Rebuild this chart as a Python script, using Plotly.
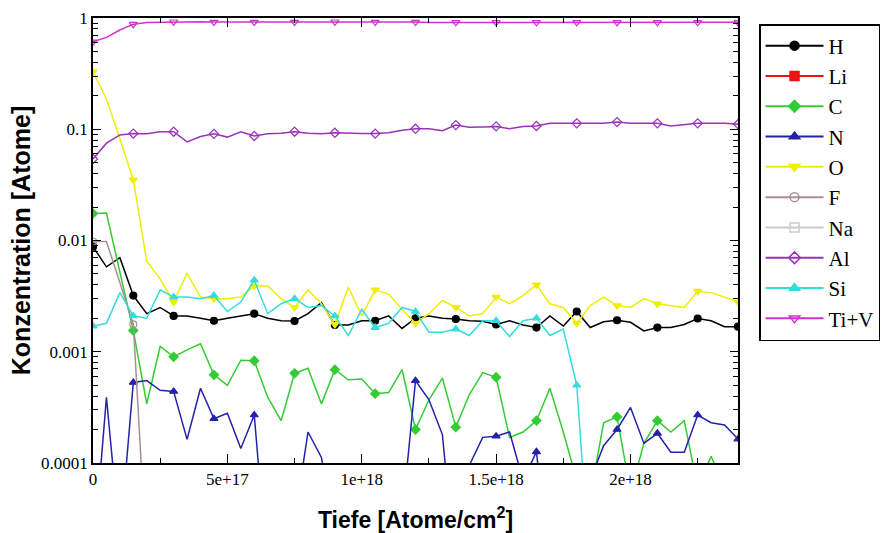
import plotly.graph_objects as go

# depth axis: one point every 5e16 atoms/cm^2 from 0 to 2.4e18
depth_step = 5e16
n_points = 49
depth = [i * depth_step for i in range(n_points)]

H = [0.0088, 0.0058, 0.0070, 0.0032, 0.0022, 0.0025, 0.0021, 0.0021, 0.0020, 0.0019,
     0.0020, 0.0021, 0.0022, 0.0020, 0.0019, 0.00189, 0.0022, 0.00276, 0.00174, 0.00174,
     0.0019, 0.0019, 0.0021, 0.00162, 0.0020, 0.0021, 0.0020, 0.00197, 0.0019, 0.00188,
     0.00176, 0.0019, 0.00174, 0.00165, 0.0021, 0.0017, 0.0023, 0.00165, 0.00186, 0.00192,
     0.00184, 0.00154, 0.00165, 0.00165, 0.00176, 0.00199, 0.0019, 0.00168, 0.00168]

Li = [None] * n_points

C = [0.0175, 0.0177, 0.0052, 0.00155, 0.00034, 0.00112, 0.00090, 0.00104, 0.00118, 0.00062,
     0.0005, 0.00084, 0.00083, 0.00039, 0.00024, 0.00064, 0.00071, 0.00034, 0.00069, 0.00056,
     0.00057, 0.00042, 0.00043, 0.00069, 0.0002, 0.00037, 0.00058, 0.00021, 0.00041, 0.00065,
     0.00059, 0.00017, 0.00019, 0.00024, 0.00047, 0.00019, 7e-5, 5e-5, 0.00023, 0.00026,
     5.5e-5, 0.00015, 0.00024, 0.00019, 0.00024, 6e-5, 0.000115, 6e-5, 5e-5]

N = [1.3e-5, 0.00039, 2e-5, 0.00053, 0.00055, 0.00045, 0.00044, 0.000163, 0.00047, 0.00025,
     0.00028, 0.000135, 0.00027, 1e-5, 1e-5, 3e-5, 0.00019, 0.000112, 2e-5, 1e-5,
     1e-5, 1e-5, 1e-5, 3.2e-5, 0.00055, 0.00037, 0.00018, 1e-5, 9.5e-5, 0.00017,
     0.000174, 0.00019, 7e-5, 0.000126, 1e-5, 1e-5, 1e-5, 7e-5, 0.000143, 0.0002,
     0.000316, 0.00015, 0.000185, 0.000125, 0.000125, 0.00027, 0.00023, 0.00022, 0.000164]

O = [0.33, 0.187, 0.082, 0.035, 0.0065, 0.0045, 0.0028, 0.0051, 0.0031, 0.0030,
     0.0030, 0.0031, 0.0039, 0.0039, 0.0030, 0.0025, 0.0036, 0.0027, 0.00176, 0.0038,
     0.0021, 0.0036, 0.0033, 0.0024, 0.0018, 0.0022, 0.0029, 0.0025, 0.0021, 0.0022,
     0.0031, 0.0027, 0.0032, 0.0040, 0.0027, 0.0025, 0.0018, 0.0026, 0.0031, 0.0026,
     0.0025, 0.0030, 0.0027, 0.0026, 0.0025, 0.0035, 0.0034, 0.0031, 0.0028]

F = [0.0098, 0.0098, 0.0042, 0.00176, 1.3e-5] + [None] * 44

Na = [None] * n_points

Al = [0.054, 0.075, 0.089, 0.0915, 0.091, 0.095, 0.095, 0.077, 0.086, 0.091,
      0.085, 0.095, 0.087, 0.091, 0.092, 0.095, 0.092, 0.091, 0.093, 0.092,
      0.0915, 0.0915, 0.093, 0.098, 0.101, 0.101, 0.097, 0.109, 0.104, 0.105,
      0.106, 0.101, 0.106, 0.107, 0.113, 0.113, 0.113, 0.113, 0.113, 0.116,
      0.113, 0.113, 0.113, 0.107, 0.110, 0.113, 0.113, 0.113, 0.111]

Si = [0.0017, 0.0018, 0.0034, 0.0021, 0.0020, 0.0036, 0.0031, 0.0031, 0.0030, 0.0032,
      0.0023, 0.0028, 0.0044, 0.0022, 0.0027, 0.0030, 0.0025, 0.0026, 0.0021, 0.0014,
      0.0024, 0.00165, 0.0018, 0.0025, 0.0023, 0.0015, 0.0015, 0.0016, 0.0014, 0.0019,
      0.0019, 0.00137, 0.0019, 0.0020, 0.0014, 0.0016, 0.0005, 1e-5] + [None] * 11

TiV = [0.61, 0.67, 0.78, 0.88, 0.91, 0.915, 0.925, 0.93, 0.925, 0.92,
       0.92, 0.925, 0.92, 0.92, 0.925, 0.92, 0.92, 0.92, 0.925, 0.92,
       0.915, 0.92, 0.92, 0.915, 0.92, 0.91, 0.91, 0.915, 0.91, 0.91,
       0.915, 0.91, 0.91, 0.915, 0.91, 0.91, 0.915, 0.91, 0.91, 0.915,
       0.91, 0.91, 0.915, 0.91, 0.91, 0.915, 0.91, 0.91, 0.915]

series_names = ["H", "Li", "C", "N", "O", "F", "Na", "Al", "Si", "Ti+V"]
series_values = [H, Li, C, N, O, F, Na, Al, Si, TiV]
series_colors = ["#000000", "#ee1111", "#33cc33", "#2222aa", "#eeee00",
                 "#a89090", "#cccccc", "#9933bb", "#33dddd", "#cc33cc"]
series_symbols = ["circle", "square", "diamond", "triangle-up", "triangle-down",
                  "circle-open", "square-open", "diamond-open", "triangle-up", "triangle-down-open"]

marker_every = 3

x_tickvals = [0, 5e17, 1e18, 1.5e18, 2e18]
x_ticktext = ["0", "5e+17", "1e+18", "1.5e+18", "2e+18"]
x_minor = [2.5e17, 7.5e17, 1.25e18, 1.75e18, 2.25e18]
y_tickvals = [1e-4, 1e-3, 1e-2, 1e-1, 1]
y_ticktext = ["0.0001", "0.001", "0.01", "0.1", "1"]
y_minor = [k * 10.0 ** e for e in range(-4, 0) for k in range(2, 10)]

fig = go.Figure()
for name, vals, col, sym in zip(series_names, series_values, series_colors, series_symbols):
    fig.add_trace(go.Scatter(x=depth, y=vals, mode="lines", name=name, legendgroup=name,
                             showlegend=False, line=dict(color=col, width=1.5),
                             connectgaps=False, hoverinfo="skip"))
    mx = depth[::marker_every]
    my = vals[::marker_every]
    fig.add_trace(go.Scatter(x=mx, y=my, mode="markers", name=name, legendgroup=name,
                             showlegend=False,
                             marker=dict(color=col, symbol=sym, size=7,
                                         line=dict(color=col, width=1.2))))
    fig.add_trace(go.Scatter(x=[None], y=[None], mode="lines+markers", name=name,
                             legendgroup=name, showlegend=True,
                             line=dict(color=col, width=2),
                             marker=dict(color=col, symbol=sym, size=9,
                                         line=dict(color=col, width=1.5))))

fig.update_layout(
    width=896, height=533,
    margin=dict(l=93, r=158, t=18, b=70, autoexpand=False),
    paper_bgcolor="white", plot_bgcolor="white",
    showlegend=True,
    legend=dict(x=1.0326, y=0.9865, xanchor="left", yanchor="top",
                bordercolor="black", borderwidth=1.5, bgcolor="white",
                font=dict(family="Liberation Serif", size=21, color="black"),
                tracegroupgap=0, itemwidth=58),
    xaxis=dict(range=[0, 2.4e18], tickmode="array", tickvals=x_tickvals, ticktext=x_ticktext,
               automargin=False,
               showgrid=False, zeroline=False, showline=True, linecolor="black", linewidth=1.5,
               mirror="ticks", ticks="inside", ticklen=9, tickwidth=1.2, tickcolor="black",
               minor=dict(tickmode="array", tickvals=x_minor, ticks="inside", ticklen=5,
                          tickcolor="black", tickwidth=1, showgrid=False),
               tickfont=dict(family="Liberation Serif", size=17, color="black"),
               title=dict(text="<b>Tiefe [Atome/cm<sup>2</sup>]</b>", standoff=30,
                          font=dict(family="Liberation Sans", size=23, color="black"))),
    yaxis=dict(type="log", range=[-4, 0], tickmode="array", tickvals=y_tickvals, ticktext=y_ticktext,
               automargin=False,
               showgrid=False, zeroline=False, showline=True, linecolor="black", linewidth=1.5,
               mirror="ticks", ticks="inside", ticklen=8, tickwidth=1.2, tickcolor="black",
               minor=dict(tickmode="array", tickvals=y_minor, ticks="inside", ticklen=5,
                          tickcolor="black", tickwidth=1, showgrid=False),
               tickfont=dict(family="Liberation Serif", size=17, color="black"),
               title=dict(text="<b>Konzentration [Atome]</b>", standoff=3,
                          font=dict(family="Liberation Sans", size=25, color="black"))),
)

fig.write_html("out.html")
